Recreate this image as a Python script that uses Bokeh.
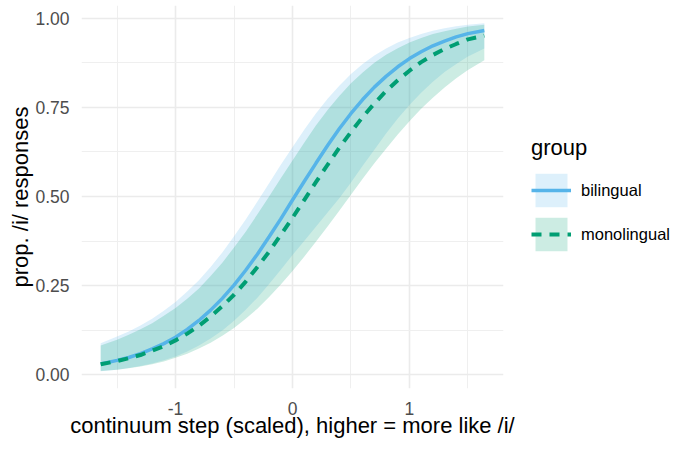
from bokeh.plotting import figure
from bokeh.layouts import row
from bokeh.models import FixedTicker, Legend, LegendItem, Range1d, ColumnDataSource
from bokeh.embed import file_html
from bokeh.resources import INLINE

# ---- data ----
step = [-1.64, -1.5, -1.4, -1.3, -1.2, -1.1, -1.0, -0.9, -0.8, -0.7, -0.6,
        -0.5, -0.4, -0.3, -0.2, -0.1, 0.0, 0.1, 0.2, 0.3, 0.4, 0.5, 0.6,
        0.7, 0.8, 0.9, 1.0, 1.1, 1.2, 1.3, 1.4, 1.5, 1.64]

bil_fit = [0.030, 0.040, 0.048, 0.059, 0.072, 0.087, 0.105, 0.127, 0.152, 0.181, 0.214,
           0.251, 0.293, 0.338, 0.387, 0.437, 0.490, 0.542, 0.593, 0.643, 0.690, 0.733, 0.772,
           0.807, 0.837, 0.864, 0.887, 0.906, 0.923, 0.936, 0.948, 0.957, 0.966]
bil_hi = [0.088, 0.107, 0.121, 0.138, 0.157, 0.179, 0.204, 0.233, 0.265, 0.302, 0.343,
          0.388, 0.435, 0.486, 0.537, 0.589, 0.638, 0.687, 0.733, 0.774, 0.811, 0.844, 0.872,
          0.896, 0.915, 0.932, 0.945, 0.956, 0.965, 0.972, 0.978, 0.982, 0.986]
bil_lo = [0.0096, 0.0139, 0.0183, 0.0239, 0.031, 0.040, 0.051, 0.065, 0.082, 0.101, 0.124,
          0.151, 0.182, 0.216, 0.254, 0.294, 0.336, 0.375, 0.415, 0.455, 0.495, 0.539, 0.586,
          0.631, 0.677, 0.719, 0.757, 0.791, 0.822, 0.849, 0.872, 0.893, 0.915]

mono_fit = [0.029, 0.038, 0.046, 0.055, 0.067, 0.080, 0.096, 0.115, 0.137, 0.163, 0.192,
            0.224, 0.261, 0.302, 0.345, 0.392, 0.440, 0.490, 0.540, 0.589, 0.637, 0.681, 0.723,
            0.761, 0.796, 0.826, 0.853, 0.877, 0.897, 0.914, 0.928, 0.941, 0.951]
mono_hi = [0.082, 0.098, 0.112, 0.127, 0.144, 0.165, 0.187, 0.213, 0.242, 0.277, 0.314,
           0.357, 0.401, 0.450, 0.500, 0.551, 0.601, 0.651, 0.699, 0.743, 0.782, 0.818, 0.848,
           0.875, 0.898, 0.916, 0.932, 0.945, 0.956, 0.964, 0.971, 0.977, 0.982]
mono_lo = [0.0098, 0.0139, 0.0178, 0.0229, 0.0293, 0.0371, 0.047, 0.0587, 0.0731, 0.0895, 0.109,
           0.131, 0.157, 0.185, 0.218, 0.253, 0.291, 0.331, 0.373, 0.416, 0.460, 0.505, 0.550,
           0.593, 0.634, 0.674, 0.711, 0.746, 0.777, 0.806, 0.832, 0.855, 0.882]

groups = ["bilingual", "monolingual"]
x_ticks = [-1, 0, 1]
x_minor = [-1.5, -0.5, 0.5, 1.5]
x_tick_labels = ["-1", "0", "1"]
y_ticks = [0.0, 0.25, 0.5, 0.75, 1.0]
y_minor = [0.125, 0.375, 0.625, 0.875]
y_tick_labels = ["0.00", "0.25", "0.50", "0.75", "1.00"]

BLUE = "#56B4E9"
GREEN = "#009E73"
FONT = "Liberation Sans"
ALPHA = 0.2
DASH = "10 8"

src = ColumnDataSource(dict(x=step, bf=bil_fit, bl=bil_lo, bh=bil_hi,
                            mf=mono_fit, ml=mono_lo, mh=mono_hi))

p = figure(width=516, height=441,
           x_range=Range1d(-1.804, 1.804), y_range=Range1d(-0.039, 1.036),
           output_backend="svg", toolbar_location=None,
           min_border_left=81, min_border_right=13,
           min_border_top=5, min_border_bottom=53)
p.outline_line_color = None
p.background_fill_color = "white"
p.border_fill_color = "white"

p.varea(x="x", y1="bl", y2="bh", source=src, fill_color=BLUE, fill_alpha=ALPHA)
p.varea(x="x", y1="ml", y2="mh", source=src, fill_color=GREEN, fill_alpha=ALPHA)
p.line(x="x", y="bf", source=src, line_color=BLUE, line_width=3.5)
p.line(x="x", y="mf", source=src, line_color=GREEN, line_width=4, line_dash=DASH)

# axes
p.xaxis.ticker = FixedTicker(ticks=x_ticks, minor_ticks=x_minor)
p.yaxis.ticker = FixedTicker(ticks=y_ticks, minor_ticks=y_minor)
p.xaxis.major_label_overrides = {t: l for t, l in zip(x_ticks, x_tick_labels)}
p.yaxis.major_label_overrides = {t: l for t, l in zip(y_ticks, y_tick_labels)}

for ax in (p.xaxis, p.yaxis):
    ax.axis_line_color = None
    ax.major_tick_line_color = None
    ax.minor_tick_line_color = None
    ax.major_label_text_font = FONT
    ax.major_label_text_font_size = "17.5px"
    ax.major_label_text_color = "#4D4D4D"
    ax.axis_label_text_font = FONT
    ax.axis_label_text_font_size = "22px"
    ax.axis_label_text_font_style = "normal"
    ax.axis_label_text_color = "black"

p.xaxis.axis_label = "continuum step (scaled), higher = more like /i/"
p.yaxis.axis_label = "prop. /i/ responses"
p.xaxis.major_label_standoff = 7
p.xaxis.axis_label_standoff = -5
p.yaxis.major_label_standoff = 6
p.yaxis.axis_label_standoff = -1

for g in (p.xgrid, p.ygrid):
    g.grid_line_color = "#EBEBEB"
    g.grid_line_width = 1.6
    g.minor_grid_line_color = "#EFEFEF"
    g.minor_grid_line_width = 1.0

# ---- legend panel: separate figure whose view holds none of the data ----
lg = figure(width=156, height=441, output_backend="svg", toolbar_location=None,
            x_range=Range1d(10, 11), y_range=Range1d(10, 11),
            x_axis_type=None, y_axis_type=None,
            min_border_left=0, min_border_right=0, min_border_top=5, min_border_bottom=53)
lg.outline_line_color = None
lg.grid.visible = False
lg.background_fill_alpha = 0
lg.border_fill_alpha = 0
k_bb = lg.varea(x="x", y1="bl", y2="bh", source=src, fill_color=BLUE, fill_alpha=ALPHA)
k_bl = lg.line(x="x", y="bf", source=src, line_color=BLUE, line_width=3.5)
k_mb = lg.varea(x="x", y1="ml", y2="mh", source=src, fill_color=GREEN, fill_alpha=ALPHA)
k_ml = lg.line(x="x", y="mf", source=src, line_color=GREEN, line_width=4, line_dash=DASH)

legend = Legend(items=[LegendItem(label=groups[0], renderers=[k_bb, k_bl]),
                       LegendItem(label=groups[1], renderers=[k_mb, k_ml])],
                title="group", location=(15, 133))
legend.title_text_font = FONT
legend.title_text_font_size = "22px"
legend.title_text_font_style = "normal"
legend.title_text_color = "black"
legend.title_standoff = 8
legend.label_text_font = FONT
legend.label_text_font_size = "16.5px"
legend.label_text_color = "black"
legend.glyph_width = 40
legend.glyph_height = 42
legend.spacing = 2
legend.label_standoff = 10
legend.padding = 0
legend.margin = 0
legend.border_line_color = None
legend.background_fill_alpha = 0
lg.add_layout(legend)

layout = row(p, lg)
open("out.html", "w").write(file_html(layout, INLINE))
